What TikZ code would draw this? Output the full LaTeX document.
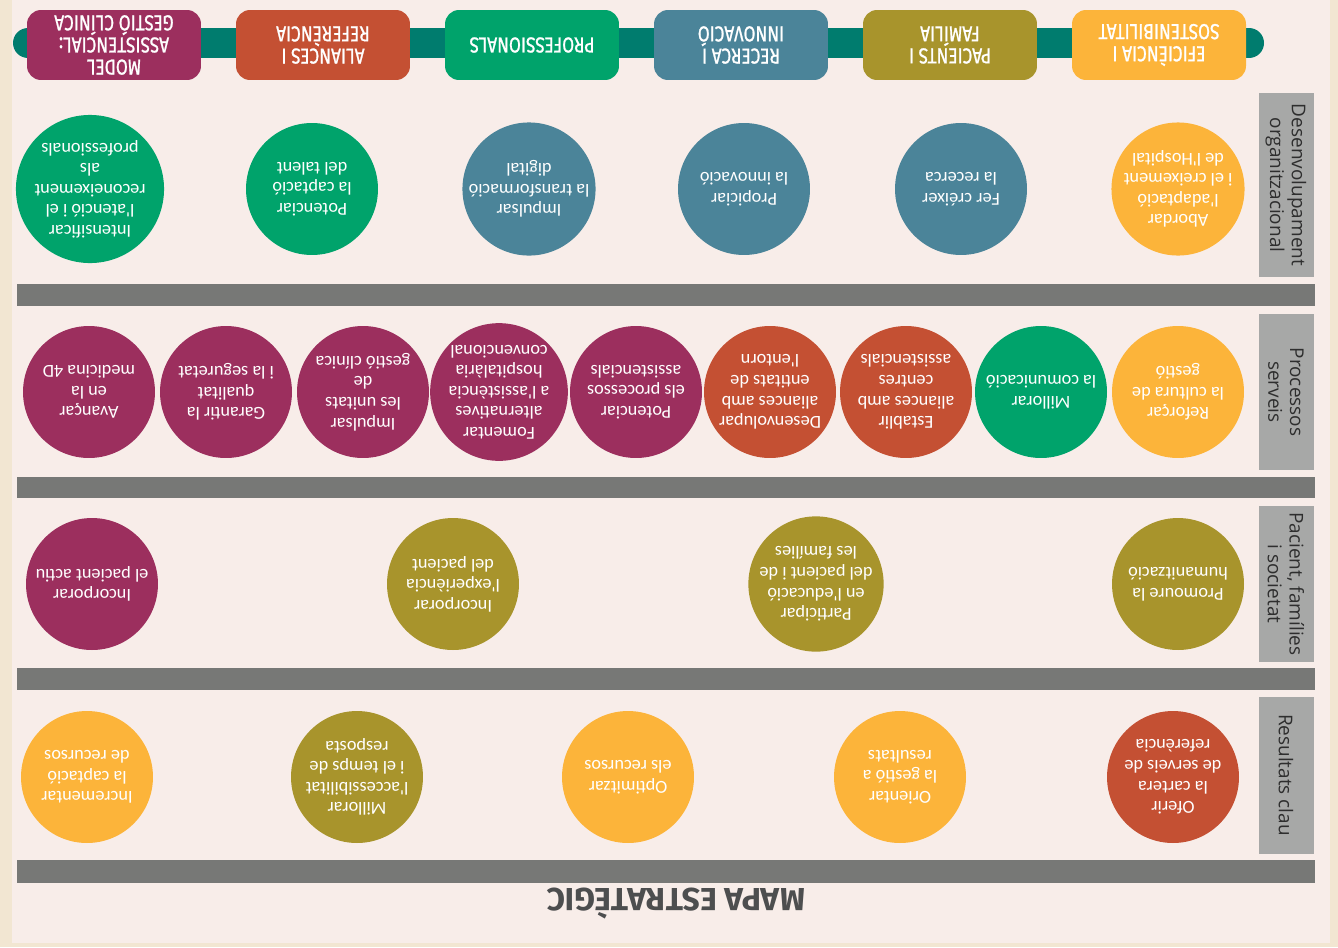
\documentclass[tikz,border=0pt]{standalone}
\usepackage{fontspec}
\newfontfamily\goalfont{Carlito}
\newfontfamily\axisfont[FakeStretch=0.8, FakeBold=1]{Fira Sans}
\newfontfamily\rowfont{Open Sans}
\newfontfamily\titlefont{Fira Sans}
\definecolor{Plum}{HTML}{9C2F5E}
\definecolor{Brick}{HTML}{C45033}
\definecolor{Emerald}{HTML}{00A36B}
\definecolor{Steel}{HTML}{4B8499}
\definecolor{Olive}{HTML}{A8942C}
\definecolor{Amber}{HTML}{FCB43A}
\definecolor{Teal}{HTML}{007C6E}
\definecolor{BarGray}{HTML}{777876}
\definecolor{SideGray}{HTML}{A7A8A7}
\definecolor{LabelText}{HTML}{2E2E2E}
\definecolor{TitleGray}{HTML}{4D4E4F}
\definecolor{Panel}{HTML}{F8EDE9}
\definecolor{Cream}{HTML}{F2E6D2}
\usetikzlibrary{positioning}

\begin{document}
\begin{tikzpicture}[x=0.02cm, y=-0.02cm,
        goal/.style={circle, minimum size=2.64cm, inner sep=0pt, align=center, text=white, rotate=180, font=\goalfont\fontsize{10.4}{11.7}\selectfont},
        axis/.style={rectangle, rounded corners=0.28cm, minimum width=3.48cm, minimum height=1.4cm, inner sep=1pt, align=center, text=white, rotate=180, font=\axisfont\fontsize{12.3}{12.6}\selectfont},
        rowlabel/.style={rectangle, fill=SideGray, minimum height=1.1cm, inner sep=0pt, align=center, text=LabelText, rotate=-90, font=\rowfont\fontsize{10.8}{12.4}\selectfont},
        separator/.style={fill=BarGray}
    ]
        \useasboundingbox (0,0) rectangle (1338,947);
        \fill[Cream] (0,0) rectangle (1338,947);
        \fill[Panel] (12,0) rectangle (1330,943);

        % eixos estrategics
        \draw[Teal, line width=0.6cm, line cap=round] (28,43) -- (1249,43);
        \node[axis, fill=Plum] (model) at (114,45) {MODEL\\ASSISTENCIAL:\\GESTIÓ CLÍNICA};
        \node[axis, fill=Brick] (aliances) at (323,45) {ALIANCES I\\REFERÈNCIA};
        \node[axis, fill=Emerald] (profs) at (532,45) {PROFESSIONALS};
        \node[axis, fill=Steel] (recerca) at (741,45) {RECERCA I\\INNOVACIÓ};
        \node[axis, fill=Olive] (pacients) at (950,45) {PACIENTS I\\FAMÍLIA};
        \node[axis, fill=Amber] (eficiencia) at (1159,45) {EFICIÈNCIA I\\SOSTENIBILITAT};

        % franges
        \fill[separator] (17,284) rectangle (1315,306);
        \fill[separator] (17,477) rectangle (1315,498);
        \fill[separator] (17,668) rectangle (1315,690);
        \fill[separator] (17,860) rectangle (1315,883);

        \node[rowlabel, minimum width=3.7cm] (desenv) at (1286,185) {Desenvolupament\\organitzacional};
        \node[rowlabel, minimum width=3.14cm] (processos) at (1286,392) {Processos\\serveis};
        \node[rowlabel, minimum width=3.14cm] (societat) at (1286,584) {Pacient, famílies\\i societat};
        \node[rowlabel, minimum width=3.14cm] (resultats) at (1286,775) {Resultats clau};

        % desenvolupament organitzacional
        \node[goal, fill=Emerald] (intensificar) at (90,189) {Intensificar\\l'atenció i el\\reconeixement\\als\\professionals};
        \node[goal, fill=Emerald] (talent) at (312,189) {Potenciar\\la captació\\del talent};
        \node[goal, fill=Steel] (digital) at (529,189) {Impulsar\\la transformació\\digital};
        \node[goal, fill=Steel] (innovacio) at (744,189) {Propiciar\\la innovació};
        \node[goal, fill=Steel] (recercagoal) at (961,189) {Fer créixer\\la recerca};
        \node[goal, fill=Amber] (abordar) at (1178,189) {Abordar\\l'adaptació\\i el creixement\\de l'Hospital};

        % processos serveis
        \node[goal, fill=Plum] (medicina) at (89,392) {Avançar\\en la\\medicina 4D};
        \node[goal, fill=Plum] (qualitat) at (226,392) {Garantir la\\qualitat\\i la seguretat};
        \node[goal, fill=Plum] (unitats) at (363,392) {Impulsar\\les unitats\\de\\gestió clínica};
        \node[goal, fill=Plum] (alternatives) at (499,392) {Fomentar\\alternatives\\a l'assistència\\hospitalària\\convencional};
        \node[goal, fill=Plum] (processosgoal) at (636,392) {Potenciar\\els processos\\assistencials};
        \node[goal, fill=Brick] (entorn) at (770,392) {Desenvolupar\\aliances amb\\entitats de\\l'entorn};
        \node[goal, fill=Brick] (centres) at (906,392) {Establir\\aliances amb\\centres\\assistencials};
        \node[goal, fill=Emerald] (comunicacio) at (1041,392) {Millorar\\la comunicació};
        \node[goal, fill=Amber] (cultura) at (1178,392) {Reforçar\\la cultura de\\gestió};

        % pacient, families i societat
        \node[goal, fill=Plum] (actiu) at (92,584) {Incorporar\\el pacient actiu};
        \node[goal, fill=Olive] (experiencia) at (453,584) {Incorporar\\l'experiència\\del pacient};
        \node[goal, fill=Olive] (educacio) at (816,584) {Participar\\en l'educació\\del pacient i de\\les famílies};
        \node[goal, fill=Olive] (humanitzacio) at (1178,584) {Promoure la\\humanització};

        % resultats clau
        \node[goal, fill=Amber] (captacio) at (87,777) {Incrementar\\la captació\\de recursos};
        \node[goal, fill=Olive] (accessibilitat) at (357,777) {Millorar\\l'accessibilitat\\i el temps de\\resposta};
        \node[goal, fill=Amber] (recursos) at (628,777) {Optimitzar\\els recursos};
        \node[goal, fill=Amber] (gestio) at (900,777) {Orientar\\la gestió a\\resultats};
        \node[goal, fill=Brick] (cartera) at (1173,777) {Oferir\\la cartera\\de serveis de\\referència};

        \node[rotate=180, text=TitleGray, font=\titlefont\bfseries\fontsize{18.2}{20}\selectfont] (titol) at (676,903) {MAPA ESTRATÈGIC};
    \end{tikzpicture}
\end{document}
